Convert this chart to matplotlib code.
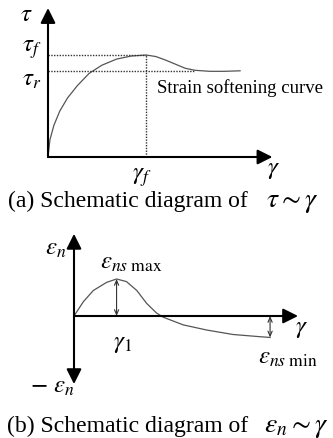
import matplotlib
matplotlib.use("Agg")
import matplotlib.pyplot as plt

plt.rcParams['font.family'] = ['Liberation Serif', 'DejaVu Serif']
plt.rcParams['mathtext.fontset'] = 'stix'

# (a) tau ~ gamma, strain softening curve (gamma_f = 1, tau_f = 1)
gam_a = [0, 0.02, 0.06, 0.12, 0.2, 0.3, 0.42, 0.55, 0.7, 0.85, 1.0, 1.1, 1.2, 1.3, 1.4, 1.5, 1.65, 1.8, 1.96]
tau_a = [0, 0.17, 0.31, 0.45, 0.58, 0.7, 0.82, 0.9, 0.96, 0.99, 1.0, 0.985, 0.95, 0.91, 0.87, 0.85, 0.84, 0.84, 0.845]
gam_f = 1.0
tau_f = 1.0
tau_r = 0.84

# (b) eps_n ~ gamma (gamma_1 = 1, eps_ns_max = 1)
gam_b = [0, 0.22, 0.45, 0.76, 0.99, 1.22, 1.46, 1.69, 1.92, 2.07, 2.54, 3.09, 3.70, 4.33, 4.56]
eps_b = [0, 0.39, 0.69, 0.91, 1.0, 0.93, 0.69, 0.34, 0.08, -0.03, -0.24, -0.38, -0.5, -0.56, -0.58]
gam_1 = 0.99
eps_max = 1.0
gam_min = 4.56
eps_min = -0.58

W, H = 333, 439
fig = plt.figure(figsize=(W / 100, H / 100), dpi=100)

def full_axes(ox, oy, sx, sy):
    # axes over whole figure; data origin at pixel (ox, oy), sx/sy pixels per unit
    ax = fig.add_axes([0, 0, 1, 1])
    ax.set_xlim(-ox / sx, (W - ox) / sx)
    ax.set_ylim((oy - H) / sy, oy / sy)
    ax.axis('off')
    ax.patch.set_alpha(0)
    return ax

axis_kw = dict(arrowstyle='-|>,head_length=0.9,head_width=0.45', color='black', lw=1.5, shrinkA=0, shrinkB=0)
dbl_kw = dict(arrowstyle='<->,head_length=0.35,head_width=0.15', color='#333333', lw=0.8, shrinkA=0, shrinkB=0)
dot = dict(color='#333333', lw=1, ls=(0, (1, 1)))
MS = 18

# ---- panel (a)
ax = full_axes(48, 158, 98, 102)
ax.annotate('', xy=(2.29, 0), xytext=(0, 0), arrowprops=axis_kw)
ax.annotate('', xy=(0, 1.46), xytext=(0, 0), arrowprops=axis_kw)
ax.plot(gam_a, tau_a, color='#555555', lw=0.9)
ax.plot([0, gam_f], [tau_f, tau_f], **dot)
ax.plot([0, 1.5], [tau_r, tau_r], **dot)
ax.plot([gam_f, gam_f], [0, tau_f], **dot)
ax.text(-0.29, 1.40, r'$\tau$', fontsize=MS, va='center', ha='left')
ax.text(-0.27, 1.06, r'$\tau_{f}$', fontsize=MS, va='center', ha='left')
ax.text(-0.27, 0.765, r'$\tau_{r}$', fontsize=MS, va='center', ha='left')
ax.text(0.86, -0.19, r'$\gamma_{f}$', fontsize=MS, va='center', ha='left')
ax.text(2.23, -0.12, r'$\gamma$', fontsize=MS, va='center', ha='left')
ax.text(1.11, 0.69, 'Strain softening curve', fontsize=13.5, va='center', ha='left')

# ---- panel (b)
bx = full_axes(74, 317, 43, 37)
bx.annotate('', xy=(5.21, 0), xytext=(0, 0), arrowprops=axis_kw)
bx.annotate('', xy=(0, 2.22), xytext=(0, 0), arrowprops=axis_kw)
bx.annotate('', xy=(0, -1.84), xytext=(0, 0), arrowprops=axis_kw)
bx.plot(gam_b, eps_b, color='#555555', lw=0.9)
bx.annotate('', xy=(gam_1, eps_max), xytext=(gam_1, 0), arrowprops=dbl_kw)
bx.annotate('', xy=(gam_min, eps_min), xytext=(gam_min, 0), arrowprops=dbl_kw)
bx.text(-0.67, 1.85, r'$\varepsilon_{n}$', fontsize=MS, va='center', ha='left')
bx.text(0.6, 1.46, r'$\varepsilon_{ns\ \mathrm{max}}$', fontsize=MS, va='center', ha='left')
bx.text(0.9, -0.72, r'$\gamma_{1}$', fontsize=MS, va='center', ha='left')
bx.text(4.28, -1.12, r'$\varepsilon_{ns\ \mathrm{min}}$', fontsize=MS, va='center', ha='left')
bx.text(-1.02, -1.89, r'$-\ \varepsilon_{n}$', fontsize=MS, va='center', ha='left')
bx.text(5.14, -0.32, r'$\gamma$', fontsize=MS, va='center', ha='left')

# ---- captions
fig.text(8 / W, 1 - 207 / H, '(a) Schematic diagram of', fontsize=17, va='baseline', ha='left')
fig.text(266 / W, 1 - 207 / H, r'$\tau\sim\gamma$', fontsize=20, va='baseline', ha='left')
fig.text(7 / W, 1 - 432 / H, '(b) Schematic diagram of', fontsize=17, va='baseline', ha='left')
fig.text(264 / W, 1 - 432 / H, r'$\varepsilon_{n}\sim\gamma$', fontsize=20, va='baseline', ha='left')

plt.savefig('out.png', dpi=100)
